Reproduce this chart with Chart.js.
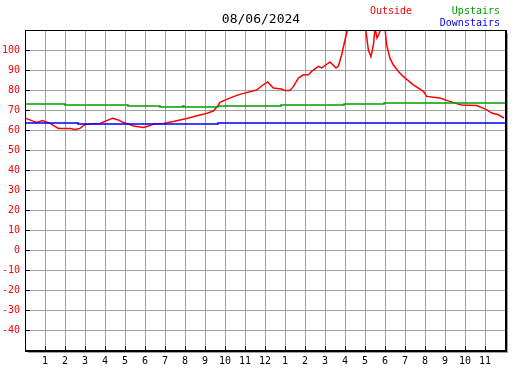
<!DOCTYPE html>
<html>
<head>
<meta charset="utf-8">
<script src="https://cdn.jsdelivr.net/npm/chart.js@4"></script>
<style>
  body { margin: 0; background: #fff; }
  canvas { display: block; }
</style>
</head>
<body>
<canvas id="chart" width="527" height="370"></canvas>
<script>
// hours since midnight, temperatures in F
const outsideHours = [0.05, 0.33, 0.58, 0.88, 1.25, 1.67, 2.25, 2.5, 2.75, 3.0, 3.25, 3.75, 4.08, 4.38, 4.67, 4.92, 5.08, 5.42, 5.92, 6.17, 6.42, 6.92, 7.42, 8.08, 8.75, 9.08, 9.42, 9.67, 9.75, 10.08, 10.42, 10.75, 11.08, 11.42, 11.58, 11.83, 12.13, 12.42, 12.83, 13.0, 13.25, 13.42, 13.67, 13.92, 14.17, 14.33, 14.67, 14.83, 15.25, 15.55, 15.67, 15.83, 16.0, 16.17, 16.4, 16.7, 17.03, 17.17, 17.3, 17.42, 17.5, 17.6, 17.7, 17.8, 18.0, 18.08, 18.25, 18.42, 18.67, 18.92, 19.42, 19.92, 20.08, 20.75, 21.08, 21.58, 21.83, 22.58, 23.08, 23.33, 23.67, 23.95];
const outsideTemps = [65.8, 64.7, 63.8, 64.7, 63.3, 60.8, 60.7, 60.3, 60.8, 62.8, 63, 63.3, 64.7, 65.8, 65, 63.7, 63.3, 62, 61.3, 62, 63, 63.3, 64.2, 65.8, 67.5, 68.3, 69.5, 72.5, 73.8, 75.3, 76.7, 77.8, 78.7, 79.6, 80, 82, 84, 81, 80.5, 79.7, 79.7, 81.8, 86, 87.6, 87.6, 89.3, 91.8, 91, 94, 91, 92, 97.5, 105, 112, 118, 115, 110.5, 100, 96.7, 102.5, 111, 106, 108, 111, 111, 102.5, 95.8, 92.5, 89.2, 86.7, 82.6, 79.3, 76.8, 76, 74.8, 73.2, 72.5, 72.2, 70.2, 68.5, 67.6, 66];

const upstairsHours = [0, 2.0, 5.15, 6.75, 7.88, 7.95, 9.65, 12.8, 15.95, 17.95, 24];
const upstairsTemps = [73, 72.5, 72, 71.5, 72, 71.5, 72, 72.5, 73, 73.5, 73.5];

const downstairsHours = [0, 2.65, 9.65, 24];
const downstairsTemps = [63.5, 63, 63.5, 63.5];

const hourLabels = ['', '1', '2', '3', '4', '5', '6', '7', '8', '9', '10', '11', '12', '1', '2', '3', '4', '5', '6', '7', '8', '9', '10', '11', ''];
const chartTitle = '08/06/2024';

const mono = 'DejaVu Sans Mono';

function points(hours, temps) {
  return hours.map((h, i) => ({ x: h, y: temps[i] }));
}

// title, legend text, axis frame with shadow and small tick marks
const framePlugin = {
  id: 'frame',
  afterDatasetsDraw(chart) {
    const ctx = chart.ctx;
    const a = chart.chartArea;
    const xs = chart.scales.x;
    const ys = chart.scales.y;
    ctx.save();
    // shadow
    ctx.fillStyle = '#a0a0a0';
    ctx.fillRect(a.right + 1, a.top + 3, 2, a.bottom - a.top);
    ctx.fillRect(a.left + 3, a.bottom + 1, a.right - a.left, 2);
    // frame
    ctx.strokeStyle = '#000';
    ctx.lineWidth = 1;
    ctx.strokeRect(a.left + 0.5, a.top + 0.5, a.right - a.left, a.bottom - a.top);
    ctx.fillStyle = '#000';
    ctx.fillRect(a.left, a.bottom, a.right - a.left + 1, 2);
    ctx.fillRect(a.right, a.top, 2, a.bottom - a.top + 2);
    // tick marks
    ctx.beginPath();
    for (let v = -40; v <= 100; v += 10) {
      const y = Math.round(ys.getPixelForValue(v)) + 0.5;
      ctx.moveTo(a.left, y);
      ctx.lineTo(a.left + 5, y);
    }
    for (let h = 1; h < 24; h++) {
      const x = Math.round(xs.getPixelForValue(h)) + 0.5;
      ctx.moveTo(x, a.bottom);
      ctx.lineTo(x, a.bottom - 4);
    }
    ctx.stroke();
    ctx.restore();
  },
  afterDraw(chart) {
    const ctx = chart.ctx;
    ctx.save();
    ctx.textBaseline = 'middle';
    ctx.font = '13px "' + mono + '"';
    ctx.fillStyle = '#000';
    ctx.textAlign = 'center';
    ctx.fillText(chartTitle, 261, 20);
    ctx.font = '10px "' + mono + '"';
    ctx.textAlign = 'left';
    ctx.fillStyle = '#ff0000';
    ctx.fillText('Outside', 370, 11);
    ctx.textAlign = 'right';
    ctx.fillStyle = '#00a000';
    ctx.fillText('Upstairs', 500, 11);
    ctx.fillStyle = '#0000ff';
    ctx.fillText('Downstairs', 500, 23);
    ctx.restore();
  }
};

new Chart(document.getElementById('chart'), {
  type: 'line',
  data: {
    datasets: [
      {
        label: 'Upstairs',
        data: points(upstairsHours, upstairsTemps),
        borderColor: '#00a000',
        borderWidth: 1.5,
        stepped: true,
        pointRadius: 0
      },
      {
        label: 'Downstairs',
        data: points(downstairsHours, downstairsTemps),
        borderColor: '#0000ff',
        borderWidth: 1.5,
        stepped: true,
        pointRadius: 0
      },
      {
        label: 'Outside',
        data: points(outsideHours, outsideTemps),
        borderColor: '#ff0000',
        borderWidth: 1.5,
        tension: 0,
        pointRadius: 0
      }
    ]
  },
  options: {
    responsive: false,
    animation: false,
    events: [],
    layout: { padding: { top: 30, right: 22, left: 0, bottom: 0 } },
    plugins: {
      legend: { display: false },
      title: { display: false },
      tooltip: { enabled: false }
    },
    scales: {
      x: {
        type: 'linear',
        min: 0,
        max: 24,
        afterFit: s => { s.height = 20; },
        border: { display: false },
        grid: { color: '#a0a0a0', lineWidth: 1, drawTicks: false },
        ticks: {
          stepSize: 1,
          autoSkip: false,
          maxRotation: 0,
          padding: 5,
          color: '#000',
          font: { family: mono, size: 10 },
          callback: v => hourLabels[v]
        }
      },
      y: {
        min: -50,
        max: 110,
        afterFit: s => { s.width = 25; },
        border: { display: false },
        grid: { color: '#a0a0a0', lineWidth: 1, drawTicks: false },
        ticks: {
          stepSize: 10,
          padding: 5,
          color: '#ff0000',
          font: { family: mono, size: 10 },
          callback: v => (v === -50 || v === 110) ? '' : v
        }
      }
    }
  },
  plugins: [framePlugin]
});
</script>
</body>
</html>
